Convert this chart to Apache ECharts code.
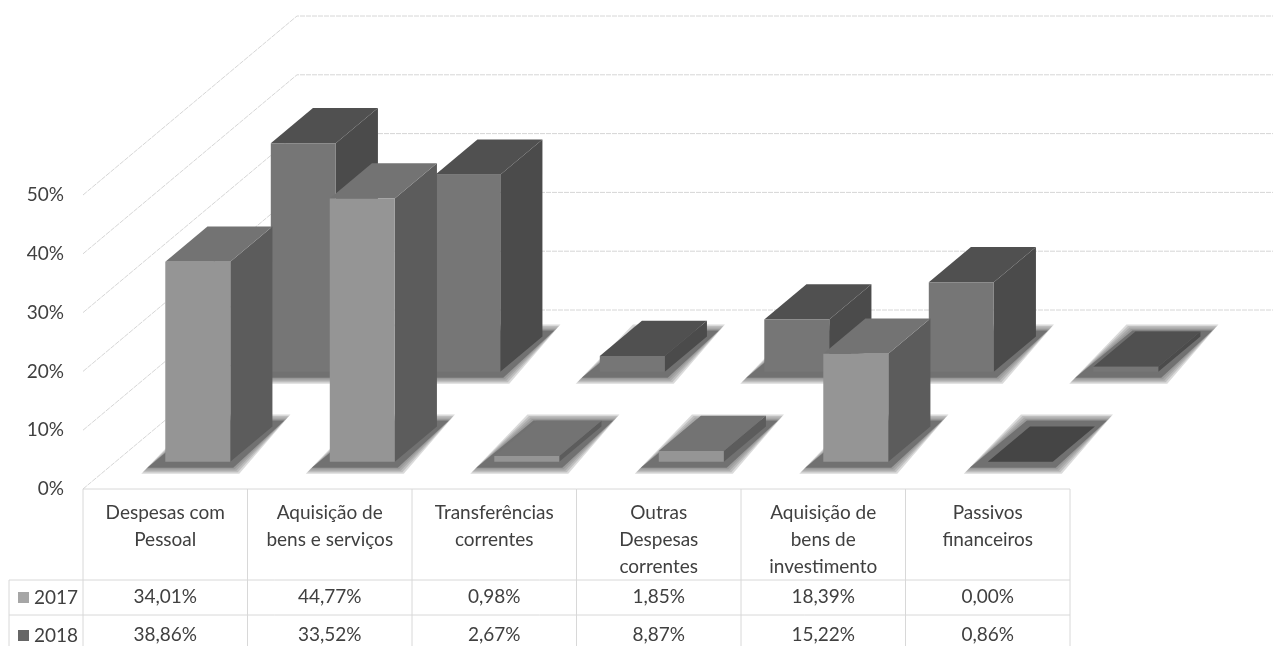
<!DOCTYPE html>
<html>
<head>
<meta charset="utf-8">
<style>
html,body{margin:0;padding:0;background:#fff}
#main{width:1273px;height:646px}
</style>
<script src="https://cdn.jsdelivr.net/npm/echarts@6/dist/echarts.min.js"></script>
</head>
<body>
<div id="main"></div>
<script>
var categories = ['Despesas com\nPessoal', 'Aquisição de\nbens e serviços', 'Transferências\ncorrentes', 'Outras\nDespesas\ncorrentes', 'Aquisição de\nbens de\ninvestimento', 'Passivos\nfinanceiros'];
var values2017 = [34.01, 44.77, 0.98, 1.85, 18.39, 0.00];
var values2018 = [38.86, 33.52, 2.67, 8.87, 15.22, 0.86];
var yTicks = [0, 10, 20, 30, 40, 50];

// oblique projection of the floor
var depthX = 214, depthY = 179;
var barDepth = 0.197, barWidth = 0.395;
var lblFont = 'Lato';
var lblColor = '#404040';
var lineColor = '#d6d6d6';

function pct(v) {
    return v.toFixed(2).replace('.', ',') + '%';
}

function renderWall(params, api) {
    var cs = params.coordSys;
    var y = api.coord([0, api.value(1)])[1];
    return {
        type: 'polyline',
        silent: true,
        shape: {points: [[cs.x, y], [cs.x + depthX, y - depthY], [cs.x + cs.width + depthX, y - depthY]]},
        style: {fill: null, stroke: lineColor, lineWidth: 1, lineDash: [5, 1]}
    };
}

// soft floor shadow: stacked translucent outlines, widest first
function shadowLayers(l, r, by, dx, dy) {
    var layers = [];
    for (var e = 6; e >= 0; e -= 1.5) {
        layers.push({
            type: 'polygon',
            shape: {points: [[l - 18 - e, by + 6 + e], [r + 3 + e, by + 6 + e], [r + dx + 12 + e, by - dy - 6 - e], [l + dx - 3 - e, by - dy - 6 - e]]},
            style: {fill: '#6a6a6a', opacity: e === 0 ? 0.85 : 0.25}
        });
    }
    return layers;
}

function barRenderer(rowX, rowY, colors) {
    return function (params, api) {
        var v = api.value(1);
        var top = api.coord([api.value(0), v]);
        var base = api.coord([api.value(0), 0]);
        var w = api.size([1, 0])[0] * barWidth;
        var dx = depthX * barDepth, dy = depthY * barDepth;
        var l = base[0] + depthX * rowX - w / 2, r = l + w;
        var by = base[1] - depthY * rowY, ty = top[1] - depthY * rowY;
        var topFill = v === 0 ? '#454545' : colors.top;
        return {
            type: 'group',
            silent: true,
            children: shadowLayers(l, r, by, dx, dy).concat([
                {type: 'polygon', shape: {points: [[r, by], [r + dx, by - dy], [r + dx, ty - dy], [r, ty]]}, style: {fill: colors.side}},
                {type: 'polygon', shape: {points: [[l, ty], [r, ty], [r + dx, ty - dy], [l + dx, ty - dy]]}, style: {fill: topFill}},
                {type: 'rect', shape: {x: l, y: ty, width: w, height: by - ty}, style: {fill: colors.front}}
            ])
        };
    };
}

var dom = document.getElementById('main');
var myChart = echarts.init(dom);

var gridLeft = 83, colW = 164.5, tableTop = 489;
var tableLines = [];
[[9, 580, 1070, 580], [9, 615, 1070, 615], [83, 489, 1070, 489], [9, 580, 9, 646]].forEach(function (p) {
    tableLines.push({type: 'line', silent: true, shape: {x1: p[0], y1: p[1], x2: p[2], y2: p[3]}, style: {stroke: '#d8d8d8', lineWidth: 1}});
});
for (var i = 0; i <= categories.length; i++) {
    var xx = gridLeft + colW * i;
    tableLines.push({type: 'line', silent: true, shape: {x1: xx, y1: tableTop, x2: xx, y2: 646}, style: {stroke: '#d8d8d8', lineWidth: 1}});
}

var hiddenAxis = {axisLine: {show: false}, axisTick: {show: false}, splitLine: {show: false}};
function rowAxis(vals, margin) {
    return Object.assign({
        type: 'category',
        position: 'bottom',
        data: vals.map(pct),
        axisLabel: {interval: 0, margin: margin, verticalAlign: 'middle', fontFamily: lblFont, fontSize: 19, color: lblColor}
    }, hiddenAxis);
}

var option = {
    animation: false,
    backgroundColor: '#fff',
    grid: {left: gridLeft, right: 203, top: 195, bottom: 157, containLabel: false},
    legend: {
        orient: 'vertical',
        left: 18,
        top: 588,
        padding: 0,
        icon: 'rect',
        itemWidth: 11,
        itemHeight: 11,
        itemGap: 19,
        selectedMode: false,
        data: ['2017', '2018'],
        textStyle: {fontFamily: lblFont, fontSize: 19, color: lblColor, padding: [0, 0, 0, 0]}
    },
    xAxis: [
        Object.assign({
            type: 'category',
            data: categories,
            axisLabel: {interval: 0, margin: 10, verticalAlign: 'top', lineHeight: 27, fontFamily: lblFont, fontSize: 19, color: lblColor}
        }, hiddenAxis),
        rowAxis(values2017, 108),
        rowAxis(values2018, 146)
    ],
    yAxis: Object.assign({
        type: 'value',
        min: 0,
        max: 50,
        interval: 10,
        axisLabel: {formatter: '{value}%', margin: 19, padding: [3, 0, 0, 0], fontFamily: lblFont, fontSize: 19, color: lblColor}
    }, hiddenAxis),
    series: [
        {
            type: 'custom',
            z: 1,
            renderItem: renderWall,
            data: yTicks.map(function (t) { return [0, t]; })
        },
        {
            name: '2018',
            type: 'custom',
            z: 2,
            itemStyle: {color: '#666666'},
            renderItem: barRenderer(0.645, 0.655, {front: '#767676', top: '#505050', side: '#4b4b4b'}),
            data: values2018.map(function (v, i) { return [i, v]; })
        },
        {
            name: '2017',
            type: 'custom',
            z: 3,
            itemStyle: {color: '#a6a6a6'},
            renderItem: barRenderer(0.152, 0.152, {front: '#959595', top: '#737373', side: '#5c5c5c'}),
            data: values2017.map(function (v, i) { return [i, v]; })
        }
    ],
    graphic: tableLines
};

myChart.setOption(option, true);
window.addEventListener('resize', function () {
    myChart.resize();
});
</script>
</body>
</html>
